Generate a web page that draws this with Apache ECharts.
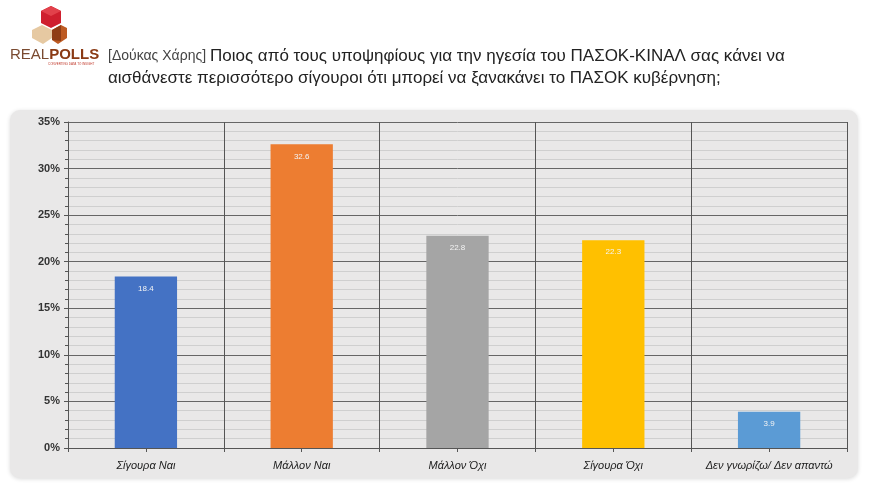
<!DOCTYPE html>
<html><head><meta charset="utf-8">
<script src="https://cdn.jsdelivr.net/npm/echarts@6/dist/echarts.min.js"></script>
<style>html,body{margin:0;padding:0;background:#fff}#c{width:880px;height:491px}</style>
</head><body><div id="c"></div>
<script>
const categories = ['Σίγουρα Ναι', 'Μάλλον Ναι', 'Μάλλον Όχι', 'Σίγουρα Όχι', 'Δεν γνωρίζω/ Δεν απαντώ'];
const values = [18.4, 32.6, 22.8, 22.3, 3.9];
const barColors = ['#4472C4', '#ED7D31', '#A5A5A5', '#FFC000', '#5B9BD5'];
const yTicks = [0, 5, 10, 15, 20, 25, 30, 35];

const chart = echarts.init(document.getElementById('c'));
const font = 'Liberation Sans, Arial, sans-serif';
chart.setOption({
  animation: false,
  backgroundColor: '#fff',
  graphic: [
    { type: 'rect', shape: { x: 10, y: 110, width: 848, height: 368, r: 10 },
      style: { fill: '#e9e8e8', shadowBlur: 4, shadowColor: 'rgba(0,0,0,0.15)', shadowOffsetY: 1 }, z: -10 },
    // logo cubes
    { type: 'polygon', shape: { points: [[42,25],[52,30],[52,38],[43,44],[32,38],[32,30]] }, style: { fill: '#e6c9a2' } },
    { type: 'polygon', shape: { points: [[52,30],[61,25],[67,28],[67,38],[58,44],[52,40]] }, style: { fill: '#bd5a22' } },
    { type: 'polygon', shape: { points: [[52,30],[61,25],[61,41],[52,40]] }, style: { fill: '#8f3d15' } },
    { type: 'polygon', shape: { points: [[51,6],[61,11],[61,23],[51,28],[41,23],[41,11]] }, style: { fill: '#cf1f2e' } },
    { type: 'polygon', shape: { points: [[51,6],[61,11],[51,16],[41,11]] }, style: { fill: '#e2414b' } },
    { type: 'text', left: 10, top: 47, style: {
      rich: { r: { font: '300 15px ' + font, fill: '#7a4a30' }, p: { font: 'bold 15px ' + font, fill: '#8a3a14' } },
      text: '{r|REAL}{p|POLLS}' } },
    { type: 'text', left: 48, top: 63, style: { text: 'CONVERTING DATA TO INSIGHT', font: '3px ' + font, fill: '#c0392b' } },
    { type: 'text', left: 108, top: 48, style: {
      rich: {
        a: { font: '14px ' + font, fill: '#444' },
        b: { font: '17px ' + font, fill: '#222' }
      },
      text: '{a|[Δούκας Χάρης] }{b|Ποιος από τους υποψηφίους για την ηγεσία του ΠΑΣΟΚ-ΚΙΝΑΛ σας κάνει να}' } },
    { type: 'text', left: 108, top: 70, style: { text: 'αισθάνεστε περισσότερο σίγουροι ότι μπορεί να ξανακάνει το ΠΑΣΟΚ κυβέρνηση;', font: '17px ' + font, fill: '#222' } }
  ],
  grid: { left: 68, right: 33, top: 122, bottom: 43 },
  xAxis: [{
    type: 'category', data: categories,
    axisLine: { lineStyle: { color: '#555', width: 1 } },
    axisTick: { show: true, interval: 0, alignWithLabel: false, length: 4, lineStyle: { color: '#555' } },
    axisLabel: { interval: 0, fontFamily: font, fontStyle: 'italic', fontSize: 11, color: '#222', margin: 12 },
    splitLine: { show: true, interval: 0, lineStyle: { color: '#555', width: 1 } }
  }, {
    type: 'category', data: categories, position: 'bottom',
    axisLine: { show: false },
    axisTick: { show: true, interval: 0, alignWithLabel: true, length: 4, lineStyle: { color: '#555' } },
    axisLabel: { show: false }, splitLine: { show: false }
  }],
  yAxis: {
    type: 'value', min: 0, max: 35, interval: 5,
    axisLine: { show: true, lineStyle: { color: '#555' } },
    axisTick: { show: true, length: 4, lineStyle: { color: '#555' } },
    minorTick: { show: true, splitNumber: 5, length: 3, lineStyle: { color: '#555' } },
    axisLabel: { formatter: v => yTicks.includes(v) ? v + '%' : '', fontFamily: font, fontWeight: 'bold', fontSize: 11, color: '#333', margin: 8 },
    splitLine: { lineStyle: { color: '#666', width: 1 } },
    minorSplitLine: { show: true, lineStyle: { color: '#cfcfcf', width: 1 } }
  },
  series: [{
    type: 'bar', xAxisIndex: 0,
    data: values.map((v, i) => ({ value: v, itemStyle: { color: barColors[i] } })),
    barWidth: '40%',
    label: { show: true, position: 'insideTop', distance: 8, color: '#f4f4f4', fontSize: 8, fontFamily: font }
  }]
});
</script></body></html>
